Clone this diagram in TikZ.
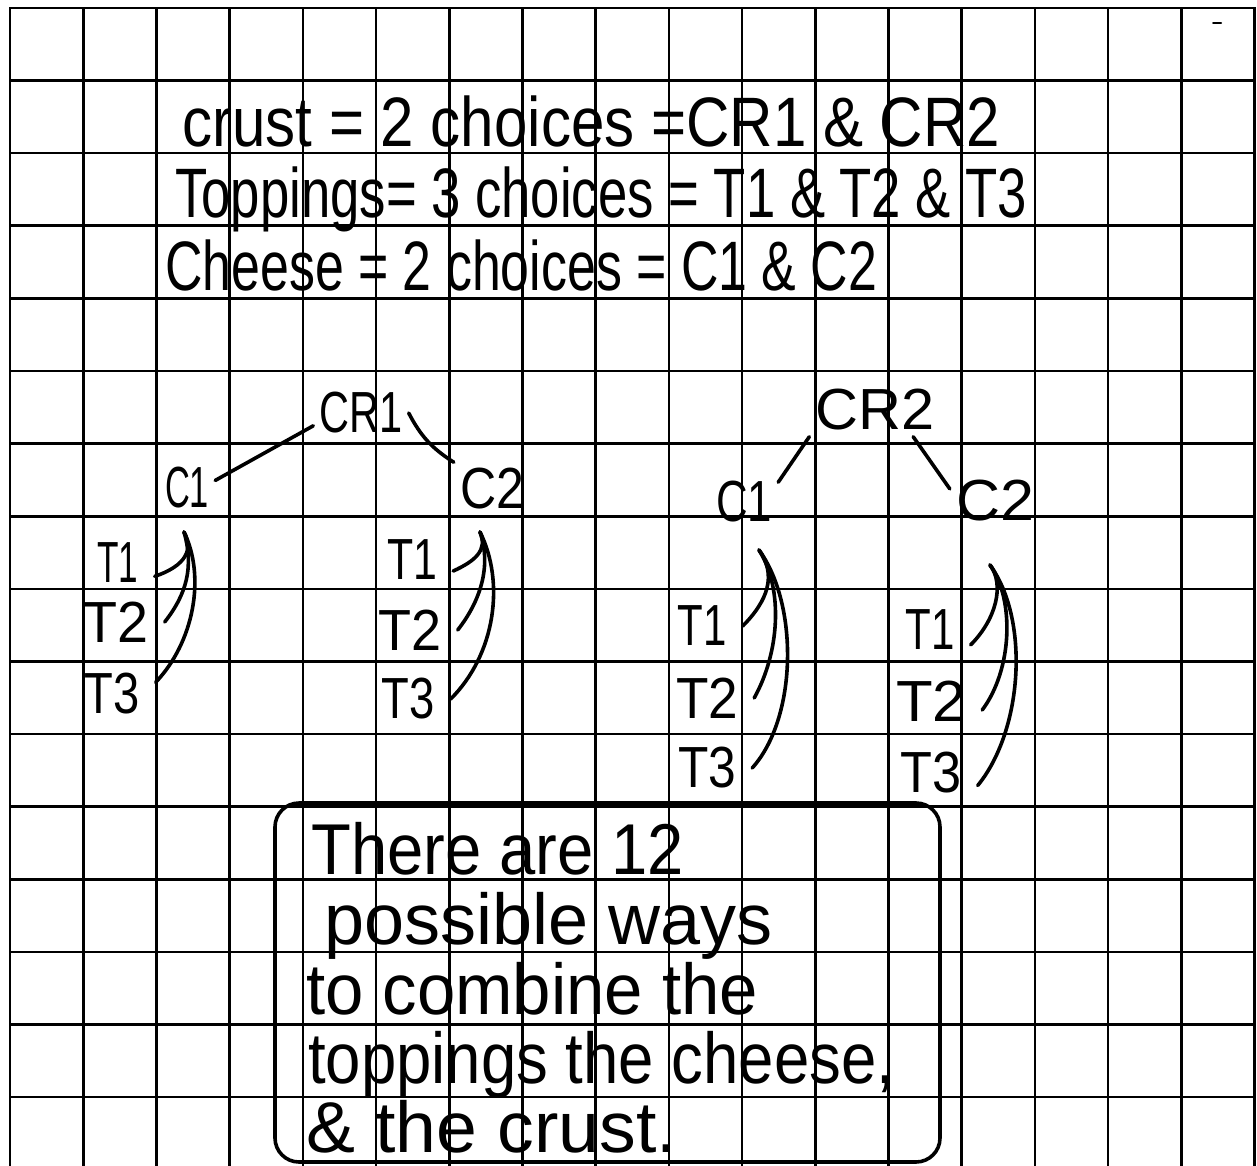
\documentclass[tikz,border=0pt]{standalone}
\usepackage{fontspec}
\setmainfont{Liberation Sans}
\usepackage{graphicx}
\usetikzlibrary{positioning,calc}
\newlength\fitlen
\newcommand\fitw[2]{\settowidth\fitlen{#2}\pgfmathsetmacro\fitf{#1/\fitlen}\scalebox{\fitf}[1]{#2}}

\begin{document}
\begin{tikzpicture}[x=1pt,y=-1pt,
    gridline/.style={line width=2.6pt,line cap=rect},
    pen/.style={line width=3.6pt,line cap=round,line join=round},
    head/.style={font=\fontsize{70}{80}\selectfont,inner sep=0pt,anchor=base west},
    note/.style={font=\fontsize{72}{80}\selectfont,inner sep=0pt,anchor=base west},
    lbl/.style={font=\fontsize{58}{64}\selectfont,inner sep=6pt},
    tlbl/.style={font=\fontsize{58}{64}\selectfont,inner xsep=16pt,inner ysep=4pt}]
  \useasboundingbox (0,0) rectangle (1257,1166);
  \fill[white] (0,0) rectangle (1257,1166);
  \foreach \i in {0,...,17}
    \draw[gridline] (10+73.2*\i,8) -- (10+73.2*\i,1170);
  \foreach \j in {0,...,15}
    \draw[gridline] (10,8+72.6*\j) -- (1254.4,8+72.6*\j);
  \draw[pen,line width=2pt] (1213,23) -- (1221,23);

  \node[head] (l1) at (182,147) {\fitw{818}{crust = 2 choices =CR1 \& CR2}};
  \node[head] (l2) at (175,218) {\fitw{852}{Toppings= 3 choices = T1 \& T2 \& T3}};
  \node[head] (l3) at (165,290) {\fitw{712}{Cheese = 2 choices = C1 \& C2}};

  \node[lbl] (cr1) at (361,413) {\fitw{83}{CR1}};
  \node[lbl] (c1a) at (187,488) {\fitw{44}{C1}};
  \node[lbl] (c2a) at (492,489) {\fitw{64}{C2}};
  \node[lbl] (cr2) at (875,410) {\fitw{119}{CR2}};
  \node[lbl] (c1b) at (744,502) {\fitw{56}{C1}};
  \node[lbl] (c2b) at (995,501) {\fitw{78}{C2}};
  \foreach \n/\x/\y/\w/\t in {t1a/118/563/41/T1,t2a/116/622/65/T2,t3a/112/694/55/T3,
      t1b/412/560/50/T1,t2b/410/630/63/T2,t3b/408/699/53/T3,
      t1c/702/626/49/T1,t2c/707/698/62/T2,t3c/707/768/58/T3,
      t1d/930/630/49/T1,t2d/931/701/70/T2,t3d/931/773/61/T3}
    \node[tlbl] (\n) at (\x,\y) {\fitw{\w}{\t}};

  \draw[pen] (cr1.195) -- (c1a.15);
  \draw[pen] (cr1.east) to[bend right=15] (c2a.north west);
  \draw[pen] (c1b.30) -- (cr2.south west);
  \draw[pen] (cr2.-35) -- (c2b.165);

  \coordinate (ta) at (184,532);
  \coordinate (tb) at (480,532);
  \coordinate (tc) at (759,550);
  \coordinate (td) at (990,565);
  \draw[pen] (ta) .. controls +(12,22) and +(24,-8) .. (t1a.-20);
  \draw[pen] (ta) .. controls +(10,35) and +(22,-28) .. (t2a.east);
  \draw[pen] (ta) .. controls +(22,45) and +(38,-40) .. (t3a.15);
  \draw[pen] (tb) .. controls +(8,18) and +(22,-10) .. (t1b.-15);
  \draw[pen] (tb) .. controls +(12,35) and +(22,-28) .. (t2b.east);
  \draw[pen] (tb) .. controls +(25,50) and +(45,-45) .. (t3b.east);
  \draw[pen] (tc) .. controls +(18,25) and +(25,-25) .. (t1c.east);
  \draw[pen] (tc) .. controls +(25,40) and +(25,-45) .. (t2c.east);
  \draw[pen] (tc) .. controls +(40,55) and +(45,-50) .. (t3c.east);
  \draw[pen] (td) .. controls +(15,20) and +(25,-25) .. (t1d.-20);
  \draw[pen] (td) .. controls +(25,35) and +(30,-40) .. (t2d.-10);
  \draw[pen] (td) .. controls +(40,55) and +(45,-55) .. (t3d.-15);

  \node[draw,pen,rounded corners=24pt,minimum width=665pt,minimum height=359pt,inner sep=0pt] (box) at (607.5,982.5) {};
  \node[note] (n1) at (311,874) {\fitw{373}{There are 12}};
  \node[note] (n2) at (324,944) {\fitw{448}{possible ways}};
  \node[note] (n3) at (306,1014) {\fitw{452}{to combine the}};
  \node[note] (n4) at (308,1083) {\fitw{586}{toppings the cheese,}};
  \node[note] (n5) at (306,1152) {\fitw{371}{\& the crust.}};
\end{tikzpicture}
\end{document}
